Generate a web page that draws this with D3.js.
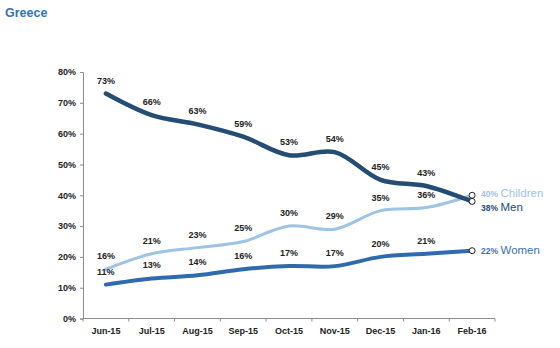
<!DOCTYPE html>
<html>
<head>
<meta charset="utf-8">
<script src="https://cdn.jsdelivr.net/npm/d3@7"></script>
<style>
  html, body { margin: 0; padding: 0; background: #fff; }
  svg { display: block; font-family: "Liberation Sans", Arial, sans-serif; }
</style>
</head>
<body>
<svg id="chart" width="560" height="348"></svg>
<script>
// Monthly shares by group, Greece
const months = ["Jun-15", "Jul-15", "Aug-15", "Sep-15", "Oct-15", "Nov-15", "Dec-15", "Jan-16", "Feb-16"];
const men      = [73, 66, 63, 59, 53, 54, 45, 43, 38];
const children = [16, 21, 23, 25, 30, 29, 35, 36, 40];
const women    = [11, 13, 14, 16, 17, 17, 20, 21, 22];
const yTicks   = [0, 10, 20, 30, 40, 50, 60, 70, 80];

const series = [
  { name: "Children", values: children, color: "#9dc3e6", width: 3,   labelColor: "#9dc3e6", dy: -2 },
  { name: "Women",    values: women,    color: "#2e6aad", width: 4,   labelColor: "#3a72b4", dy: 0 },
  { name: "Men",      values: men,      color: "#234d74", width: 4.5, labelColor: "#234d74", dy: 6 }
];

const svg = d3.select("#chart");
const margin = { left: 83, right: 65, top: 72, bottom: 29.5 };
const W = 560, H = 348;

const x = d3.scaleBand().domain(months).range([margin.left, W - margin.right]).padding(0);
const y = d3.scaleLinear().domain([0, 80]).range([H - margin.bottom, margin.top]);
const cx = m => x(m) + x.bandwidth() / 2;

// Title
svg.append("text")
  .attr("x", 5).attr("y", 17)
  .attr("font-size", 12.5).attr("font-weight", "bold")
  .attr("fill", "#2e75b6")
  .text("Greece");

// Y axis
const yAxis = svg.append("g")
  .attr("transform", `translate(${margin.left},0)`)
  .call(d3.axisLeft(y).tickValues(yTicks).tickFormat(d => d + "%").tickSize(3).tickPadding(4));
yAxis.select(".domain").attr("stroke", "#8c8c8c");
yAxis.selectAll(".tick line").attr("stroke", "#8c8c8c");
yAxis.selectAll(".tick text")
  .attr("font-size", 9).attr("font-weight", "bold").attr("fill", "#222")
  .attr("font-family", "Liberation Sans, Arial, sans-serif");

// X axis with ticks between categories
const xAxisG = svg.append("g")
  .attr("transform", `translate(0,${y(0)})`);
xAxisG.append("line")
  .attr("x1", margin.left).attr("x2", W - margin.right)
  .attr("stroke", "#8c8c8c");
const boundaries = months.map(m => x(m)).concat([W - margin.right]);
xAxisG.selectAll("line.tk").data(boundaries).enter().append("line")
  .attr("class", "tk")
  .attr("x1", d => d).attr("x2", d => d).attr("y1", 0).attr("y2", 3)
  .attr("stroke", "#8c8c8c");
xAxisG.selectAll("text").data(months).enter().append("text")
  .attr("x", d => cx(d)).attr("y", 15)
  .attr("text-anchor", "middle")
  .attr("font-size", 9).attr("font-weight", "bold").attr("fill", "#222")
  .text(d => d);

const line = d3.line()
  .x((d, i) => cx(months[i]))
  .y(d => y(d))
  .curve(d3.curveCatmullRom.alpha(0.5));

// Lines
series.forEach(s => {
  svg.append("path")
    .datum(s.values)
    .attr("fill", "none")
    .attr("stroke", s.color)
    .attr("stroke-width", s.width)
    .attr("stroke-linecap", "round")
    .attr("d", line);
});

// Data labels above each point, except the last one
series.forEach(s => {
  svg.append("g").selectAll("text")
    .data(s.values.slice(0, -1))
    .enter().append("text")
    .attr("x", (d, i) => cx(months[i]))
    .attr("y", d => y(d) - 10)
    .attr("text-anchor", "middle")
    .attr("font-size", 9).attr("font-weight", "bold").attr("fill", "#222")
    .text(d => d + "%");
});

// End markers and series labels
const last = months.length - 1;
series.forEach(s => {
  const v = s.values[last];
  svg.append("circle")
    .attr("cx", cx(months[last])).attr("cy", y(v))
    .attr("r", 3)
    .attr("fill", "#fff").attr("stroke", "#222").attr("stroke-width", 1);
  const t = svg.append("text")
    .attr("x", cx(months[last]) + 9)
    .attr("y", y(v) + 3.5 + s.dy)
    .attr("fill", s.labelColor);
  t.append("tspan").attr("font-size", 8.5).attr("font-weight", "bold").text(v + "% ");
  t.append("tspan").attr("font-size", 11.5).text(s.name);
});
</script>
</body>
</html>
